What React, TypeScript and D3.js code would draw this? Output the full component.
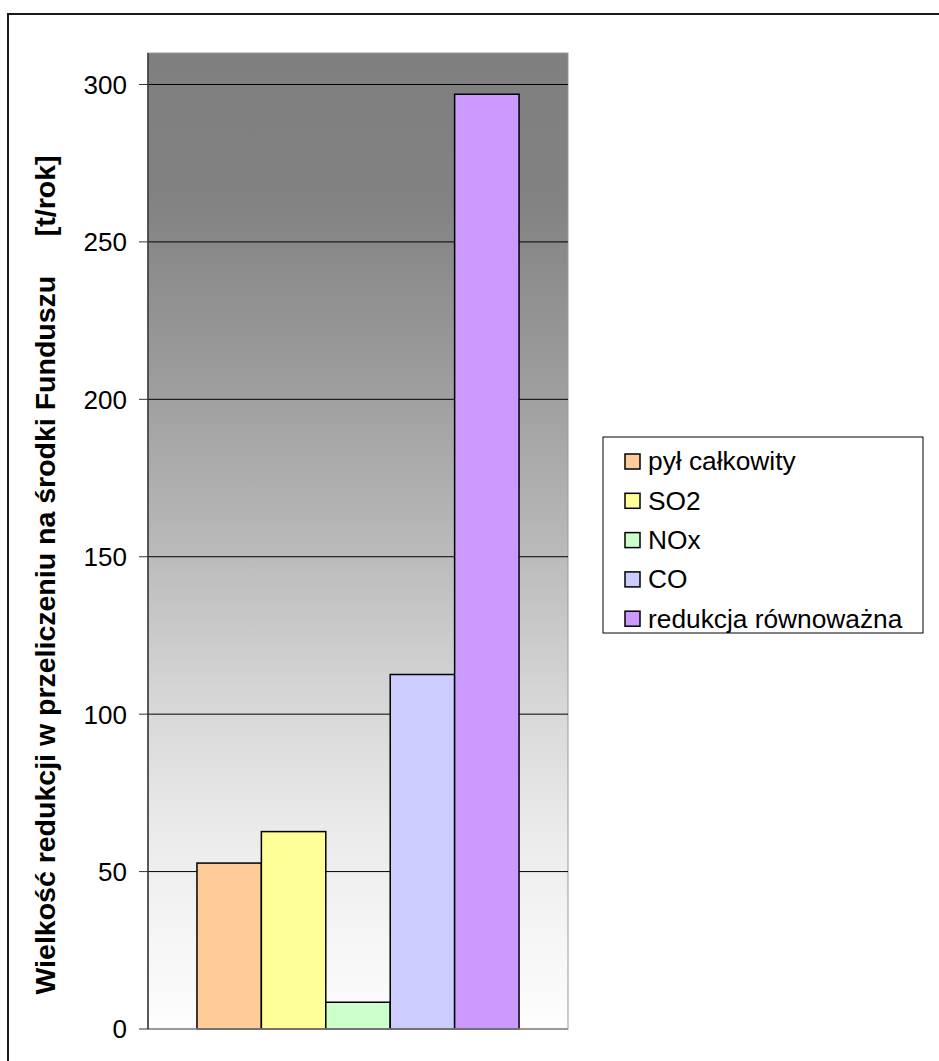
import React from "react";
import * as d3 from "d3";

const seriesNames = ["pył całkowity", "SO2", "NOx", "CO", "redukcja równoważna"];
const seriesValues = [52.7, 62.7, 8.5, 112.6, 296.9];
const seriesColors = ["#ffcc99", "#ffff99", "#ccffcc", "#ccccff", "#cc99ff"];
const yTicks = [0, 50, 100, 150, 200, 250, 300];
const yTitle = "Wielkość redukcji w przeliczeniu na środki Funduszu     [t/rok]";

const W = 939;
const H = 1061;
const plot = { left: 148, right: 568, top: 53, bottom: 1029 };

export default function App() {
  const y = d3.scaleLinear().domain([0, 310]).range([plot.bottom, plot.top]);
  const x = d3
    .scaleBand<string>()
    .domain(seriesNames)
    .range([plot.left, plot.right])
    .paddingInner(0)
    .paddingOuter(0.76);
  const font = "Arial, 'Liberation Sans', sans-serif";
  const legendX = 603;
  const legendY = 437;
  const legendW = 320;
  const legendH = 196;
  const rowY = (i: number) => 461 + i * 39.3;

  return (
    <svg
      width={W}
      height={H}
      style={{ position: "absolute", left: 0, top: 0, background: "#fff" }}
      fontFamily={font}
    >
      <defs>
        <linearGradient id="bg" x1="0" y1="0" x2="0" y2="1">
          <stop offset="0" stopColor="#7f7f7f" />
          <stop offset="0.15" stopColor="#828282" />
          <stop offset="0.33" stopColor="#9c9c9c" />
          <stop offset="0.5" stopColor="#b8b8b8" />
          <stop offset="0.65" stopColor="#d4d4d4" />
          <stop offset="0.8" stopColor="#ebebeb" />
          <stop offset="0.9" stopColor="#f5f5f5" />
          <stop offset="1" stopColor="#fdfdfd" />
        </linearGradient>
      </defs>
      <rect x={8} y={14} width={W + 10} height={H + 10} fill="#fff" stroke="#1a1a1a" strokeWidth={2} />
      <rect
        x={plot.left}
        y={plot.top}
        width={plot.right - plot.left}
        height={plot.bottom - plot.top}
        fill="url(#bg)"
        stroke="#999"
        strokeWidth={1}
      />
      {yTicks
        .filter((t) => t > 0)
        .map((t) => (
          <line key={"g" + t} x1={plot.left} x2={plot.right} y1={y(t)} y2={y(t)} stroke="#000" strokeWidth={1} />
        ))}
      {seriesNames.map((s, i) => (
        <rect
          key={s}
          x={x(s)}
          y={y(seriesValues[i])}
          width={x.bandwidth()}
          height={y(0) - y(seriesValues[i])}
          fill={seriesColors[i]}
          stroke="#000"
          strokeWidth={1.5}
        />
      ))}
      <line x1={plot.left} x2={plot.right} y1={plot.bottom} y2={plot.bottom} stroke="#888" strokeWidth={1.5} />
      <line x1={plot.left} x2={plot.left} y1={plot.top} y2={plot.bottom} stroke="#333" strokeWidth={1.5} />
      {yTicks.map((t) => (
        <g key={"t" + t}>
          <line x1={plot.left - 9} x2={plot.left} y1={y(t)} y2={y(t)} stroke="#333" strokeWidth={1} />
          <text x={127} y={y(t)} dy="0.36em" textAnchor="end" fontSize={26} fill="#000">
            {t}
          </text>
        </g>
      ))}
      <text
        transform={`translate(45,575) rotate(-90)`}
        textAnchor="middle"
        dominantBaseline="central"
        fontSize={28.5}
        fontWeight="bold"
        fill="#000"
        style={{ whiteSpace: "pre" }}
      >
        {yTitle}
      </text>
      <rect x={legendX} y={legendY} width={legendW} height={legendH} fill="#fff" stroke="#000" strokeWidth={1} />
      {seriesNames.map((s, i) => (
        <g key={"l" + s}>
          <rect x={625} y={rowY(i) - 7} width={15} height={15} fill={seriesColors[i]} stroke="#000" strokeWidth={1.5} />
          <text x={648} y={rowY(i)} dy="0.36em" fontSize={26.3} fill="#000">
            {s}
          </text>
        </g>
      ))}
    </svg>
  );
}
